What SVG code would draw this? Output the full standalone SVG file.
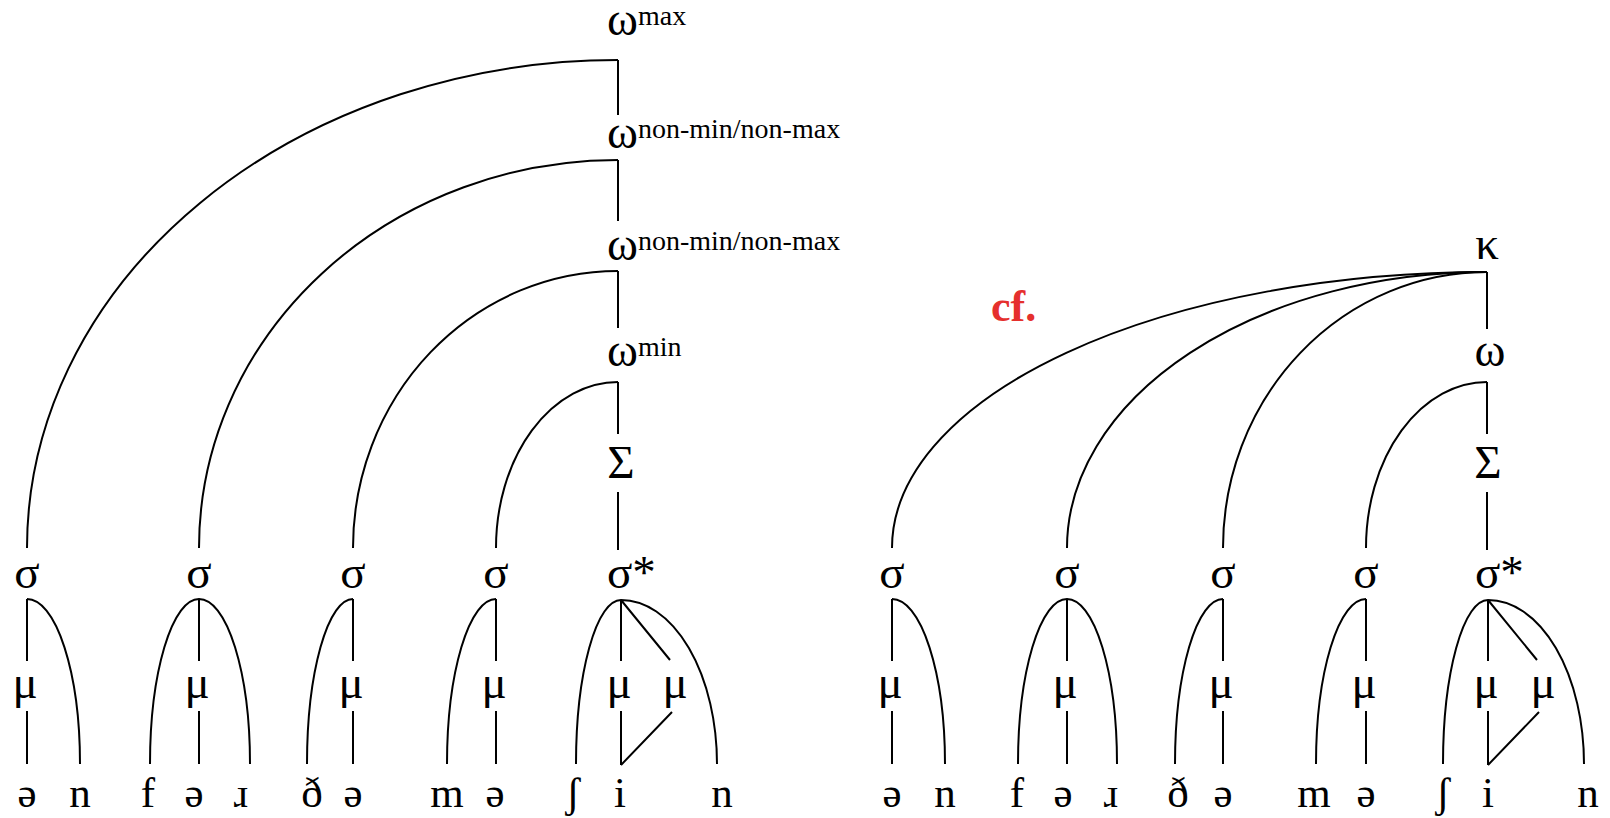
<svg xmlns="http://www.w3.org/2000/svg" width="1610" height="818" viewBox="0 0 1610 818">
<style>
text{font-family:"Liberation Serif","Times New Roman",serif;font-size:43px;fill:#000}
.g{font-size:47px}
.c{text-anchor:middle}
.sup{font-size:28px}
.cf{font-weight:bold;fill:#e5302d;font-size:44px}
.e{fill:none;stroke:#000;stroke-width:2}
</style>
<rect width="1610" height="818" fill="#fff"/>
<g id="connectors" class="e">
<path d="M618 60V115M618 160V221M618 271V328M618 382V434M618 492V550"/>
<path d="M27 548A591 488 0 0 1 618 60"/>
<path d="M199 548A419 388 0 0 1 618 160"/>
<path d="M353 548A265 277 0 0 1 618 271"/>
<path d="M496 548A122 166 0 0 1 618 382"/>
<path d="M27 599V661M27 711V764M27 599A53 165 0 0 1 80 764"/>
<path d="M199 599V661M199 711V764M199 599A49 165 0 0 0 150 764M199 599A51 165 0 0 1 250 764"/>
<path d="M353 599V661M353 711V764M353 599A46 165 0 0 0 307 764"/>
<path d="M496 599V661M496 711V764M496 599A49 165 0 0 0 447 764"/>
<path d="M621 600V661M621 711V765M621 600L670 660M621 765L672 712M621 600A45 164 0 0 0 576 764M621 600A96 164 0 0 1 717 764"/>
<path d="M1487 272V329M1487 382V434M1487 492V550"/>
<path d="M892 548A595 276 0 0 1 1487 272"/>
<path d="M1067 548A420 276 0 0 1 1487 272"/>
<path d="M1223 548A264 276 0 0 1 1487 272"/>
<path d="M1366 548A121 166 0 0 1 1487 382"/>
<path d="M892 599V661M892 711V764M892 599A53 165 0 0 1 945 764"/>
<path d="M1067 599V661M1067 711V764M1067 599A49 165 0 0 0 1018 764M1067 599A50 165 0 0 1 1117 764"/>
<path d="M1223 599V661M1223 711V764M1223 599A48 165 0 0 0 1175 764"/>
<path d="M1366 599V661M1366 711V764M1366 599A50 165 0 0 0 1316 764"/>
<path d="M1488 600V661M1488 711V765M1488 600L1537 660M1488 765L1539 712M1488 600A45 164 0 0 0 1443 764M1488 600A96 164 0 0 1 1584 764"/>
</g>
<g id="L-omega-max"><text class="g" x="607" y="35">ω<tspan class="sup" dy="-10">max</tspan></text></g>
<g id="L-omega-nonmin1"><text class="g" x="607" y="148">ω<tspan class="sup" dy="-10">non-min/non-max</tspan></text></g>
<g id="L-omega-nonmin2"><text class="g" x="607" y="260">ω<tspan class="sup" dy="-10">non-min/non-max</tspan></text></g>
<g id="L-omega-min"><text class="g" x="607" y="366">ω<tspan class="sup" dy="-10">min</tspan></text></g>
<g id="L-Sigma"><text class="g c" x="621" y="478">Σ</text></g>
<g id="L-s1"><text class="g c" x="27" y="588">σ</text></g>
<g id="L-s2"><text class="g c" x="199" y="588">σ</text></g>
<g id="L-s3"><text class="g c" x="353" y="588">σ</text></g>
<g id="L-s4"><text class="g c" x="496" y="588">σ</text></g>
<g id="L-sstar"><text class="g" x="607" y="588">σ*</text></g>
<g id="L-mu1"><text class="g c" x="25" y="698">μ</text></g>
<g id="L-mu2"><text class="g c" x="197" y="698">μ</text></g>
<g id="L-mu3"><text class="g c" x="351" y="698">μ</text></g>
<g id="L-mu4"><text class="g c" x="494" y="698">μ</text></g>
<g id="L-mu5"><text class="g c" x="619" y="698">μ</text></g>
<g id="L-mu6"><text class="g c" x="675" y="698">μ</text></g>
<g id="L-leaves">
<text class="c" x="27" y="807">ə</text><text class="c" x="80" y="807">n</text>
<text class="c" x="148" y="807">f</text><text class="c" x="194" y="807">ə</text><text class="c" x="241" y="807">ɹ</text>
<text class="c" x="312" y="807">ð</text><text class="c" x="353" y="807">ə</text>
<text class="c" x="447" y="807">m</text><text class="c" x="495" y="807">ə</text>
<text class="c" x="573" y="807">ʃ</text><text class="c" x="620" y="807">i</text><text class="c" x="722" y="807">n</text>
</g>
<g id="cf"><text class="cf" x="991" y="321">cf.</text></g>
<g id="R-kappa"><text class="g c" x="1487" y="259">κ</text></g>
<g id="R-omega"><text class="g c" x="1490" y="366">ω</text></g>
<g id="R-Sigma"><text class="g c" x="1488" y="478">Σ</text></g>
<g id="R-s1"><text class="g c" x="892" y="588">σ</text></g>
<g id="R-s2"><text class="g c" x="1067" y="588">σ</text></g>
<g id="R-s3"><text class="g c" x="1223" y="588">σ</text></g>
<g id="R-s4"><text class="g c" x="1366" y="588">σ</text></g>
<g id="R-sstar"><text class="g" x="1475" y="588">σ*</text></g>
<g id="R-mu1"><text class="g c" x="890" y="698">μ</text></g>
<g id="R-mu2"><text class="g c" x="1065" y="698">μ</text></g>
<g id="R-mu3"><text class="g c" x="1221" y="698">μ</text></g>
<g id="R-mu4"><text class="g c" x="1364" y="698">μ</text></g>
<g id="R-mu5"><text class="g c" x="1486" y="698">μ</text></g>
<g id="R-mu6"><text class="g c" x="1543" y="698">μ</text></g>
<g id="R-leaves">
<text class="c" x="892" y="807">ə</text><text class="c" x="945" y="807">n</text>
<text class="c" x="1017" y="807">f</text><text class="c" x="1063" y="807">ə</text><text class="c" x="1111" y="807">ɹ</text>
<text class="c" x="1178" y="807">ð</text><text class="c" x="1223" y="807">ə</text>
<text class="c" x="1314" y="807">m</text><text class="c" x="1366" y="807">ə</text>
<text class="c" x="1443" y="807">ʃ</text><text class="c" x="1488" y="807">i</text><text class="c" x="1588" y="807">n</text>
</g>
</svg>
